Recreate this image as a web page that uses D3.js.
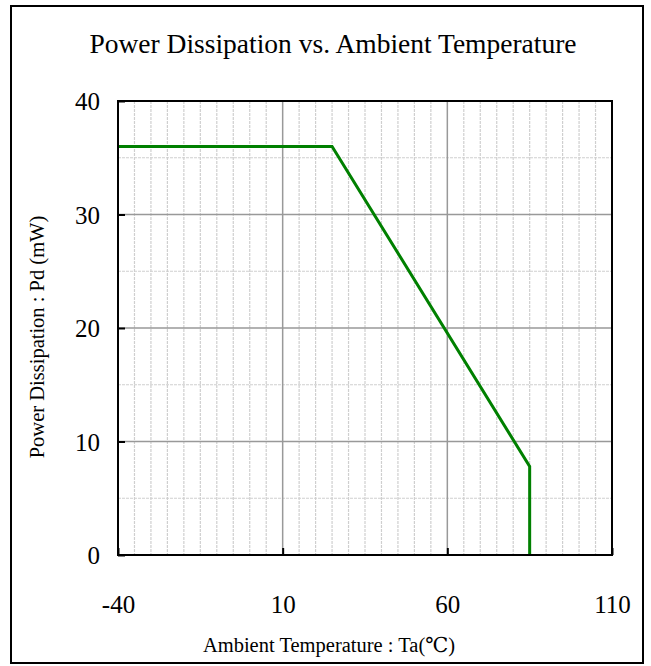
<!DOCTYPE html>
<html>
<head>
<meta charset="utf-8">
<script src="https://cdn.jsdelivr.net/npm/d3@7"></script>
<style>
  html, body { margin: 0; padding: 0; background: #fff; }
  svg { display: block; }
  svg text { font-family: "Liberation Serif", "DejaVu Serif", "Times New Roman", serif !important; fill: #000; }
</style>
</head>
<body>
<svg id="chart" width="651" height="666"></svg>
<script>
// Data
const temperature = [-40, 25, 85, 85];
const powerDissipation = [36, 36, 7.8, 0];
const xTicks = [-40, 10, 60, 110];
const yTicks = [0, 10, 20, 30, 40];
const titleText = "Power Dissipation vs. Ambient Temperature";
const xLabel = "Ambient Temperature : Ta(\u2103)";
const yLabel = "Power Dissipation : Pd (mW)";

const svg = d3.select("#chart");
const m = { left: 118, right: 612, top: 101, bottom: 555 };
const serif = "'Liberation Serif', 'Times New Roman', serif";

// outer frame
svg.append("rect").attr("x", 11).attr("y", 6).attr("width", 632).attr("height", 657)
  .attr("fill", "#fff").attr("stroke", "#000").attr("stroke-width", 2);

const x = d3.scaleLinear().domain([-40, 110]).range([m.left, m.right]);
const y = d3.scaleLinear().domain([0, 40]).range([m.bottom, m.top]);

const g = svg.append("g");

// minor grid
const xMinor = d3.range(-40, 110.1, 5).filter(v => !xTicks.includes(v));
const yMinor = d3.range(0, 40.1, 5).filter(v => !yTicks.includes(v));
g.selectAll(".xminor").data(xMinor).join("line")
  .attr("x1", d => x(d)).attr("x2", d => x(d)).attr("y1", m.top).attr("y2", m.bottom)
  .attr("stroke", "#cfcfcf").attr("stroke-width", 1.2).attr("stroke-dasharray", "3,1");
g.selectAll(".yminor").data(yMinor).join("line")
  .attr("x1", m.left).attr("x2", m.right).attr("y1", d => y(d)).attr("y2", d => y(d))
  .attr("stroke", "#cfcfcf").attr("stroke-width", 1.2).attr("stroke-dasharray", "3,1");

// major grid
g.selectAll(".xmajor").data(xTicks.slice(1, -1)).join("line")
  .attr("x1", d => x(d)).attr("x2", d => x(d)).attr("y1", m.top).attr("y2", m.bottom)
  .attr("stroke", "#999").attr("stroke-width", 1.5);
g.selectAll(".ymajor").data(yTicks.slice(1, -1)).join("line")
  .attr("x1", m.left).attr("x2", m.right).attr("y1", d => y(d)).attr("y2", d => y(d))
  .attr("stroke", "#999").attr("stroke-width", 1.5);

// data line
const line = d3.line().x((d, i) => x(temperature[i])).y((d, i) => y(powerDissipation[i]));
g.append("path").datum(temperature).attr("d", line)
  .attr("fill", "none").attr("stroke", "#008000").attr("stroke-width", 3)
  .attr("stroke-linejoin", "miter");

// plot frame
g.append("rect").attr("x", m.left).attr("y", m.top)
  .attr("width", m.right - m.left).attr("height", m.bottom - m.top)
  .attr("fill", "none").attr("stroke", "#000").attr("stroke-width", 2);

// axes (inner ticks)
const fmt = d => String(d);
const xAxis = d3.axisBottom(x).tickValues(xTicks).tickSizeInner(-7).tickSizeOuter(0).tickFormat(fmt);
const yAxis = d3.axisLeft(y).tickValues(yTicks).tickSizeInner(-7).tickSizeOuter(0).tickFormat(fmt);

const gx = svg.append("g").attr("transform", `translate(0,${m.bottom})`).call(xAxis)
  .attr("font-family", serif).attr("font-size", 25);
gx.select(".domain").remove();
gx.selectAll(".tick line").attr("stroke", "#000").attr("stroke-width", 2);
gx.selectAll(".tick text").attr("y", 58).attr("dy", "0");

const gy = svg.append("g").attr("transform", `translate(${m.left},0)`).call(yAxis)
  .attr("font-family", serif).attr("font-size", 25);
gy.select(".domain").remove();
gy.selectAll(".tick line").attr("stroke", "#000").attr("stroke-width", 2);
gy.selectAll(".tick text").attr("x", -18).attr("dy", "0.34em");

// title
svg.append("text").attr("x", 333).attr("y", 53).attr("text-anchor", "middle")
  .attr("font-family", serif).attr("font-size", 27.5).text(titleText);

// axis labels
svg.append("text").attr("x", 329).attr("y", 652).attr("text-anchor", "middle")
  .attr("font-family", serif).attr("font-size", 20.5).text(xLabel);
svg.append("text").attr("transform", `translate(44,337) rotate(-90)`)
  .attr("text-anchor", "middle").attr("font-family", serif).attr("font-size", 20.5).text(yLabel);
</script>
</body>
</html>
